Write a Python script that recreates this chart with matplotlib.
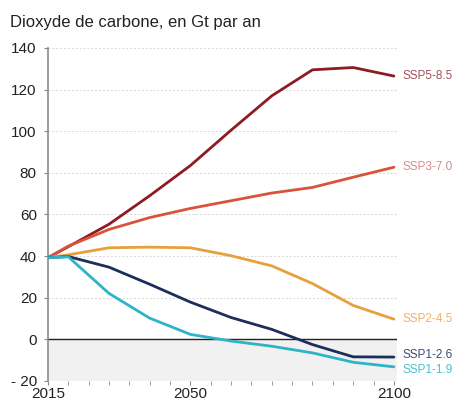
import matplotlib
matplotlib.use("Agg")
import matplotlib.pyplot as plt
import numpy as np

plt.rcParams['font.family'] = ['Liberation Sans', 'DejaVu Sans']

years = [2015, 2020, 2030, 2040, 2050, 2060, 2070, 2080, 2090, 2100]
ssp585 = [39.2, 44.5, 55.3, 69.0, 83.5, 100.5, 117.0, 129.5, 130.6, 126.5]
ssp370 = [39.2, 44.8, 52.8, 58.5, 62.9, 66.6, 70.3, 73.0, 77.9, 82.7]
ssp245 = [39.2, 40.6, 44.0, 44.3, 44.0, 40.2, 35.3, 26.8, 16.3, 9.7]
ssp126 = [39.2, 39.8, 34.7, 26.5, 17.9, 10.5, 4.8, -2.5, -8.4, -8.5]
ssp119 = [39.2, 39.7, 22.1, 10.2, 2.4, -0.8, -3.3, -6.5, -11.0, -13.2]

series = [
    ("SSP5-8.5", ssp585, "#8e1b22", "#a0505a", 0),
    ("SSP3-7.0", ssp370, "#d9533a", "#d98a8e", 0),
    ("SSP2-4.5", ssp245, "#e6a03c", "#efb070", 0),
    ("SSP1-2.6", ssp126, "#1c2f5a", "#3c4c72", 1.5),
    ("SSP1-1.9", ssp119, "#2fb3c6", "#4cc0cf", -2.5),
]
yticks = [-20, 0, 20, 40, 60, 80, 100, 120, 140]
ytick_labels = ["- 20", "0", "20", "40", "60", "80", "100", "120", "140"]
xticks = [2015, 2050, 2100]
title = "Dioxyde de carbone, en Gt par an"

fig = plt.figure(figsize=(4.56, 4.03), dpi=100)
ax = fig.add_axes([0.105, 0.0546, 0.766, 0.8264])
ax.set_xlim(2015, 2100.8)
ax.set_ylim(-20, 140)

ax.axhspan(-20, 0, color="#f1f1f1", zorder=0)
for v in yticks:
    if v in (-20, 0):
        continue
    ax.axhline(v, color="#d6d6d6", lw=0.7, ls=(0, (2, 2)), zorder=1)
ax.axhline(0, color="#222222", lw=1.0, zorder=2)

for name, vals, c, lc, dy in series:
    ax.plot(years, vals, color=c, lw=2.0, zorder=3, solid_capstyle="round")
    ax.annotate(name, xy=(years[-1], vals[-1]), xytext=(6, dy),
                textcoords="offset points", va="center", ha="left",
                fontsize=8.5, color=lc, annotation_clip=False)

for s in ["top", "right", "bottom"]:
    ax.spines[s].set_visible(False)
ax.spines["left"].set_color("#8a8a8a")
ax.spines["left"].set_linewidth(1.2)

ax.set_yticks(yticks)
ax.set_yticklabels(ytick_labels, fontsize=11, color="#222222")
ax.tick_params(axis="y", length=3, color="#8a8a8a", pad=5)

ax.set_xticks(xticks)
ax.set_xticklabels([str(x) for x in xticks], fontsize=11, color="#222222")
ax.set_xticks(list(range(2020, 2101, 5)), minor=True)
ax.tick_params(axis="x", which="both", length=3, color="#8a8a8a", pad=1.5)

fig.text(0.022, 0.945, title, fontsize=12, color="#222222", ha="left", va="center")

fig.savefig("out.png", dpi=100)
